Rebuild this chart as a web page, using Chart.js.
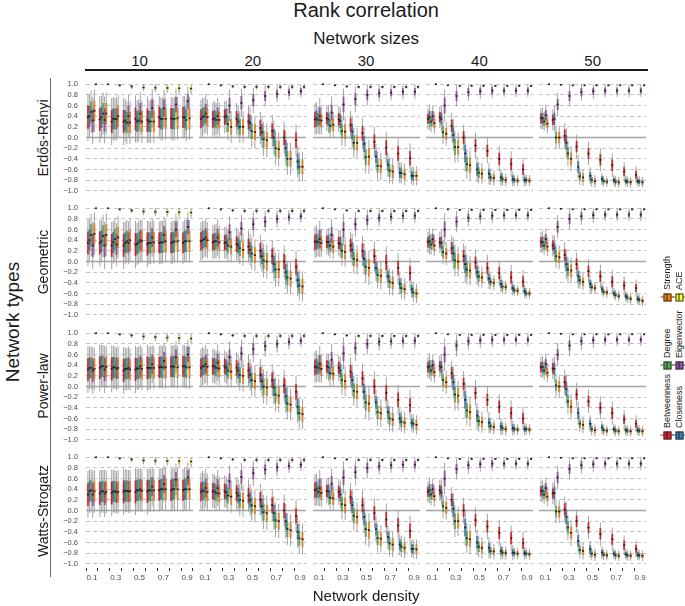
<!DOCTYPE html>
<html>
<head>
<meta charset="utf-8">
<script src="https://cdn.jsdelivr.net/npm/chart.js@4.4.1/dist/chart.umd.min.js"></script>
<style>
    body { margin: 0; background: #fff; }
    #wrap { position: relative; width: 685px; height: 606px; overflow: hidden;
            font-family: "Liberation Sans", Arial, sans-serif; color: #1a1a1a; }
    #wrap canvas { position: absolute; }
    .lbl { position: absolute; white-space: nowrap; transform: translate(-50%, -50%); line-height: 1; }
    .rot { transform: translate(-50%, -50%) rotate(-90deg); }
    .leg { position: absolute; white-space: nowrap; font-size: 9px; line-height: 1;
           transform-origin: 0 0; transform: rotate(-90deg) translateY(-50%); }
    .key { position: absolute; width: 13px; height: 7px; transform: translate(-50%, -50%); }
    .key .w { position: absolute; left: 0; right: 0; top: 3px; height: 1px; background: #555; }
    .key .b { position: absolute; left: 3px; width: 6px; top: 0; height: 6px; border: 0.5px solid #333; }
    .key .m { position: absolute; left: 6px; width: 1px; top: 0; height: 7px; background: #222; }
</style>
</head>
<body>
<div id="wrap"></div>
<script>
    // categories and labels
    var densityLabels = ['0.1', '0.2', '0.3', '0.4', '0.5', '0.6', '0.7', '0.8', '0.9'];
    var sizeLabels = ['10', '20', '30', '40', '50'];
    var typeLabels = ['Erdős-Rényi', 'Geometric', 'Power-law', 'Watts-Strogatz'];
    var measureNames = ['Betweenness', 'Closeness', 'Degree', 'Eigenvector', 'Strength', 'ACE'];
    var measureColors = ['#E41A1C', '#377EB8', '#4DAF4A', '#984EA3', '#FF7F00', '#FFFF33'];
    var yTicks = [-1.0, -0.8, -0.6, -0.4, -0.2, 0.0, 0.2, 0.4, 0.6, 0.8, 1.0];

    // medians, one row per measure (Betweenness .. ACE), one column per density
    var er10 = [
        [0.38, 0.34, 0.30, 0.30, 0.35, 0.33, 0.38, 0.36, 0.38],
        [0.40, 0.38, 0.35, 0.32, 0.30, 0.30, 0.35, 0.35, 0.38],
        [0.48, 0.45, 0.35, 0.28, 0.32, 0.30, 0.35, 0.35, 0.33],
        [0.32, 0.33, 0.35, 0.40, 0.45, 0.55, 0.55, 0.62, 0.68],
        [0.50, 0.45, 0.40, 0.28, 0.30, 0.30, 0.35, 0.36, 0.36],
        [1.00, 1.00, 0.98, 0.96, 0.94, 0.935, 0.93, 0.925, 0.92]
    ];
    var er20 = [
        [0.35, 0.34, 0.38, 0.35, 0.30, 0.18, 0.12, 0.00, -0.05],
        [0.38, 0.36, 0.40, 0.30, 0.27, 0.10, 0.00, -0.20, -0.45],
        [0.40, 0.33, 0.25, 0.20, 0.12, -0.03, -0.20, -0.40, -0.55],
        [0.45, 0.40, 0.60, 0.65, 0.70, 0.78, 0.82, 0.85, 0.87],
        [0.38, 0.33, 0.20, 0.20, 0.10, -0.05, -0.22, -0.40, -0.55],
        [1.00, 0.98, 0.96, 0.95, 0.95, 0.95, 0.95, 0.95, 0.95]
    ];
    var er30 = [
        [0.34, 0.36, 0.34, 0.24, 0.08, -0.08, -0.19, -0.30, -0.39],
        [0.36, 0.34, 0.31, 0.11, -0.12, -0.36, -0.51, -0.66, -0.72],
        [0.33, 0.22, 0.12, -0.10, -0.37, -0.53, -0.62, -0.67, -0.72],
        [0.40, 0.47, 0.62, 0.72, 0.80, 0.83, 0.84, 0.86, 0.86],
        [0.32, 0.24, 0.11, -0.10, -0.36, -0.54, -0.64, -0.69, -0.72],
        [1.00, 0.98, 0.96, 0.95, 0.95, 0.95, 0.95, 0.95, 0.95]
    ];
    var er40 = [
        [0.35, 0.38, 0.22, 0.00, -0.15, -0.25, -0.40, -0.50, -0.60],
        [0.38, 0.35, 0.05, -0.30, -0.60, -0.68, -0.75, -0.78, -0.80],
        [0.30, 0.10, -0.18, -0.50, -0.66, -0.75, -0.78, -0.80, -0.80],
        [0.40, 0.60, 0.78, 0.85, 0.87, 0.88, 0.88, 0.88, 0.88],
        [0.27, 0.07, -0.18, -0.52, -0.68, -0.76, -0.80, -0.81, -0.81],
        [1.00, 0.98, 0.97, 0.97, 0.97, 0.97, 0.97, 0.97, 0.97]
    ];
    var er50 = [
        [0.36, 0.33, 0.03, -0.17, -0.30, -0.42, -0.52, -0.64, -0.70],
        [0.36, 0.35, -0.10, -0.55, -0.72, -0.78, -0.80, -0.82, -0.82],
        [0.30, 0.00, -0.30, -0.73, -0.80, -0.82, -0.83, -0.83, -0.83],
        [0.42, 0.62, 0.78, 0.85, 0.87, 0.88, 0.88, 0.88, 0.88],
        [0.26, 0.00, -0.40, -0.75, -0.82, -0.83, -0.84, -0.84, -0.84],
        [1.00, 0.99, 0.98, 0.98, 0.98, 0.98, 0.98, 0.98, 0.98]
    ];
    var geo10 = [
        [0.35, 0.35, 0.30, 0.30, 0.32, 0.33, 0.35, 0.35, 0.35],
        [0.40, 0.38, 0.36, 0.35, 0.33, 0.35, 0.36, 0.36, 0.38],
        [0.50, 0.48, 0.42, 0.38, 0.36, 0.35, 0.36, 0.38, 0.38],
        [0.30, 0.30, 0.32, 0.35, 0.40, 0.45, 0.50, 0.60, 0.65],
        [0.52, 0.50, 0.45, 0.40, 0.38, 0.36, 0.38, 0.38, 0.38],
        [1.00, 1.00, 0.98, 0.96, 0.94, 0.935, 0.93, 0.925, 0.92]
    ];
    var geo20 = [
        [0.38, 0.36, 0.35, 0.33, 0.28, 0.20, 0.10, 0.00, -0.10],
        [0.40, 0.38, 0.36, 0.30, 0.22, 0.10, -0.05, -0.20, -0.35],
        [0.42, 0.38, 0.30, 0.25, 0.15, 0.02, -0.15, -0.30, -0.45],
        [0.45, 0.45, 0.55, 0.62, 0.70, 0.75, 0.80, 0.83, 0.85],
        [0.40, 0.36, 0.28, 0.22, 0.12, 0.00, -0.15, -0.32, -0.47],
        [1.00, 0.98, 0.96, 0.95, 0.95, 0.95, 0.95, 0.95, 0.95]
    ];
    var geo30 = [
        [0.36, 0.37, 0.35, 0.30, 0.20, 0.10, -0.02, -0.12, -0.22],
        [0.38, 0.37, 0.33, 0.22, 0.05, -0.12, -0.28, -0.42, -0.52],
        [0.36, 0.30, 0.20, 0.05, -0.10, -0.25, -0.38, -0.50, -0.58],
        [0.42, 0.50, 0.60, 0.70, 0.78, 0.82, 0.84, 0.86, 0.86],
        [0.35, 0.28, 0.18, 0.03, -0.12, -0.27, -0.40, -0.52, -0.60],
        [1.00, 0.98, 0.96, 0.95, 0.95, 0.95, 0.95, 0.95, 0.95]
    ];
    var geo40 = [
        [0.36, 0.36, 0.25, 0.10, -0.02, -0.12, -0.22, -0.30, -0.38],
        [0.38, 0.35, 0.15, -0.05, -0.20, -0.32, -0.42, -0.50, -0.56],
        [0.32, 0.18, 0.02, -0.15, -0.28, -0.38, -0.47, -0.54, -0.60],
        [0.42, 0.60, 0.75, 0.82, 0.85, 0.86, 0.87, 0.87, 0.87],
        [0.30, 0.15, 0.00, -0.17, -0.30, -0.40, -0.48, -0.55, -0.60],
        [1.00, 0.98, 0.97, 0.97, 0.97, 0.97, 0.97, 0.97, 0.97]
    ];
    var geo50 = [
        [0.36, 0.30, 0.12, -0.05, -0.18, -0.28, -0.38, -0.45, -0.50],
        [0.37, 0.25, -0.05, -0.28, -0.42, -0.52, -0.60, -0.65, -0.70],
        [0.30, 0.10, -0.15, -0.35, -0.48, -0.57, -0.63, -0.68, -0.72],
        [0.42, 0.65, 0.80, 0.85, 0.87, 0.88, 0.88, 0.88, 0.88],
        [0.28, 0.08, -0.17, -0.38, -0.50, -0.58, -0.65, -0.70, -0.74],
        [1.00, 0.99, 0.98, 0.98, 0.98, 0.98, 0.98, 0.98, 0.98]
    ];
    var pl10 = [
        [0.32, 0.35, 0.33, 0.30, 0.32, 0.35, 0.36, 0.37, 0.38],
        [0.35, 0.38, 0.36, 0.33, 0.34, 0.35, 0.37, 0.38, 0.38],
        [0.35, 0.38, 0.36, 0.33, 0.34, 0.35, 0.36, 0.37, 0.36],
        [0.30, 0.32, 0.33, 0.35, 0.38, 0.42, 0.48, 0.55, 0.60],
        [0.33, 0.37, 0.35, 0.32, 0.33, 0.35, 0.36, 0.36, 0.36],
        [1.00, 1.00, 0.98, 0.96, 0.94, 0.93, 0.92, 0.91, 0.90]
    ];
    var pl20 = [
        [0.35, 0.38, 0.38, 0.35, 0.30, 0.22, 0.12, 0.02, -0.10],
        [0.38, 0.38, 0.35, 0.30, 0.22, 0.10, -0.02, -0.18, -0.38],
        [0.38, 0.35, 0.30, 0.22, 0.12, 0.00, -0.15, -0.32, -0.50],
        [0.42, 0.45, 0.55, 0.62, 0.70, 0.76, 0.80, 0.84, 0.86],
        [0.37, 0.34, 0.28, 0.20, 0.10, -0.02, -0.17, -0.34, -0.52],
        [1.00, 0.98, 0.96, 0.95, 0.95, 0.95, 0.95, 0.95, 0.95]
    ];
    var pl30 = [
        [0.36, 0.38, 0.35, 0.28, 0.15, 0.00, -0.12, -0.25, -0.35],
        [0.38, 0.36, 0.30, 0.12, -0.10, -0.30, -0.48, -0.60, -0.68],
        [0.35, 0.25, 0.12, -0.08, -0.30, -0.48, -0.60, -0.66, -0.70],
        [0.42, 0.50, 0.62, 0.72, 0.80, 0.84, 0.85, 0.86, 0.86],
        [0.33, 0.24, 0.10, -0.10, -0.32, -0.50, -0.62, -0.68, -0.72],
        [1.00, 0.98, 0.96, 0.95, 0.95, 0.95, 0.95, 0.95, 0.95]
    ];
    var pl40 = [
        [0.36, 0.38, 0.25, 0.05, -0.12, -0.25, -0.38, -0.50, -0.60],
        [0.38, 0.36, 0.08, -0.25, -0.55, -0.68, -0.75, -0.78, -0.80],
        [0.30, 0.12, -0.15, -0.45, -0.65, -0.74, -0.78, -0.80, -0.80],
        [0.40, 0.60, 0.77, 0.85, 0.87, 0.88, 0.88, 0.88, 0.88],
        [0.27, 0.08, -0.17, -0.48, -0.67, -0.76, -0.80, -0.81, -0.81],
        [1.00, 0.98, 0.97, 0.97, 0.97, 0.97, 0.97, 0.97, 0.97]
    ];
    var pl50 = [
        [0.36, 0.34, 0.08, -0.15, -0.28, -0.40, -0.50, -0.62, -0.70],
        [0.37, 0.33, -0.05, -0.50, -0.70, -0.77, -0.80, -0.82, -0.82],
        [0.30, 0.02, -0.28, -0.70, -0.80, -0.82, -0.83, -0.83, -0.83],
        [0.42, 0.60, 0.77, 0.85, 0.87, 0.88, 0.88, 0.88, 0.88],
        [0.26, 0.00, -0.38, -0.72, -0.82, -0.83, -0.84, -0.84, -0.84],
        [1.00, 0.99, 0.98, 0.98, 0.98, 0.98, 0.98, 0.98, 0.98]
    ];
    var ws10 = [
        [0.30, 0.32, 0.33, 0.35, 0.35, 0.36, 0.38, 0.38, 0.38],
        [0.36, 0.36, 0.36, 0.37, 0.38, 0.38, 0.40, 0.40, 0.40],
        [0.38, 0.36, 0.36, 0.37, 0.38, 0.38, 0.40, 0.40, 0.40],
        [0.30, 0.32, 0.34, 0.36, 0.40, 0.45, 0.50, 0.58, 0.62],
        [0.36, 0.35, 0.35, 0.36, 0.37, 0.38, 0.40, 0.40, 0.40],
        [1.00, 1.00, 0.98, 0.96, 0.94, 0.935, 0.93, 0.925, 0.92]
    ];
    var ws20 = [
        [0.35, 0.36, 0.36, 0.33, 0.28, 0.20, 0.10, 0.00, -0.10],
        [0.38, 0.36, 0.34, 0.28, 0.20, 0.08, -0.05, -0.20, -0.40],
        [0.36, 0.33, 0.28, 0.20, 0.10, -0.03, -0.18, -0.35, -0.52],
        [0.42, 0.42, 0.55, 0.63, 0.70, 0.77, 0.81, 0.84, 0.86],
        [0.35, 0.32, 0.26, 0.18, 0.08, -0.05, -0.20, -0.37, -0.54],
        [1.00, 0.98, 0.96, 0.95, 0.95, 0.95, 0.95, 0.95, 0.95]
    ];
    var ws30 = [
        [0.38, 0.37, 0.35, 0.25, 0.10, -0.05, -0.17, -0.28, -0.38],
        [0.40, 0.36, 0.30, 0.10, -0.12, -0.35, -0.50, -0.64, -0.72],
        [0.35, 0.24, 0.12, -0.10, -0.35, -0.52, -0.62, -0.68, -0.72],
        [0.42, 0.50, 0.62, 0.72, 0.80, 0.83, 0.85, 0.86, 0.86],
        [0.33, 0.23, 0.10, -0.12, -0.37, -0.53, -0.64, -0.70, -0.73],
        [1.00, 0.98, 0.96, 0.95, 0.95, 0.95, 0.95, 0.95, 0.95]
    ];
    var ws40 = [
        [0.35, 0.38, 0.20, 0.00, -0.18, -0.30, -0.42, -0.52, -0.62],
        [0.38, 0.34, 0.03, -0.32, -0.60, -0.70, -0.76, -0.79, -0.80],
        [0.30, 0.08, -0.20, -0.52, -0.68, -0.76, -0.79, -0.80, -0.81],
        [0.40, 0.60, 0.78, 0.85, 0.87, 0.88, 0.88, 0.88, 0.88],
        [0.27, 0.05, -0.20, -0.54, -0.70, -0.77, -0.80, -0.81, -0.82],
        [1.00, 0.98, 0.97, 0.97, 0.97, 0.97, 0.97, 0.97, 0.97]
    ];
    var ws50 = [
        [0.36, 0.32, 0.02, -0.20, -0.32, -0.44, -0.54, -0.65, -0.72],
        [0.37, 0.33, -0.12, -0.57, -0.73, -0.79, -0.81, -0.82, -0.83],
        [0.30, -0.02, -0.32, -0.74, -0.81, -0.83, -0.84, -0.84, -0.84],
        [0.42, 0.62, 0.78, 0.85, 0.87, 0.88, 0.88, 0.88, 0.88],
        [0.26, -0.02, -0.42, -0.76, -0.83, -0.84, -0.85, -0.85, -0.85],
        [1.00, 0.99, 0.98, 0.98, 0.98, 0.98, 0.98, 0.98, 0.98]
    ];

    // half box heights (half the IQR) per network size
    var box10 = [
        [0.22, 0.22, 0.22, 0.22, 0.22, 0.22, 0.20, 0.20, 0.20],
        [0.20, 0.20, 0.20, 0.20, 0.20, 0.20, 0.20, 0.20, 0.20],
        [0.20, 0.20, 0.20, 0.20, 0.20, 0.20, 0.20, 0.20, 0.20],
        [0.22, 0.22, 0.20, 0.20, 0.20, 0.18, 0.17, 0.15, 0.14],
        [0.20, 0.20, 0.20, 0.20, 0.20, 0.20, 0.20, 0.20, 0.20],
        [0.00, 0.00, 0.015, 0.025, 0.035, 0.040, 0.045, 0.050, 0.055]
    ];
    var box20 = [
        [0.18, 0.16, 0.15, 0.15, 0.15, 0.15, 0.15, 0.15, 0.15],
        [0.18, 0.16, 0.15, 0.15, 0.15, 0.15, 0.16, 0.16, 0.15],
        [0.17, 0.16, 0.15, 0.15, 0.15, 0.16, 0.16, 0.15, 0.14],
        [0.18, 0.17, 0.15, 0.13, 0.12, 0.10, 0.08, 0.07, 0.06],
        [0.17, 0.16, 0.15, 0.15, 0.15, 0.16, 0.16, 0.15, 0.14],
        [0.00, 0.010, 0.018, 0.022, 0.025, 0.025, 0.025, 0.025, 0.025]
    ];
    var box30 = [
        [0.15, 0.12, 0.12, 0.13, 0.14, 0.14, 0.15, 0.14, 0.14],
        [0.15, 0.13, 0.13, 0.15, 0.15, 0.12, 0.11, 0.10, 0.08],
        [0.13, 0.12, 0.14, 0.14, 0.15, 0.13, 0.12, 0.10, 0.09],
        [0.17, 0.15, 0.15, 0.12, 0.10, 0.08, 0.07, 0.07, 0.07],
        [0.13, 0.12, 0.14, 0.14, 0.16, 0.13, 0.12, 0.10, 0.09],
        [0.00, 0.008, 0.014, 0.016, 0.016, 0.016, 0.016, 0.016, 0.016]
    ];
    var box40 = [
        [0.10, 0.10, 0.12, 0.12, 0.12, 0.12, 0.12, 0.12, 0.11],
        [0.12, 0.12, 0.15, 0.17, 0.12, 0.10, 0.08, 0.07, 0.06],
        [0.10, 0.11, 0.15, 0.14, 0.10, 0.07, 0.06, 0.05, 0.05],
        [0.10, 0.15, 0.10, 0.08, 0.07, 0.07, 0.06, 0.06, 0.06],
        [0.10, 0.11, 0.14, 0.14, 0.10, 0.07, 0.06, 0.05, 0.05],
        [0.00, 0.006, 0.010, 0.010, 0.010, 0.010, 0.010, 0.010, 0.010]
    ];
    var box50 = [
        [0.10, 0.10, 0.12, 0.11, 0.11, 0.11, 0.11, 0.09, 0.08],
        [0.10, 0.12, 0.14, 0.11, 0.08, 0.06, 0.05, 0.05, 0.05],
        [0.09, 0.11, 0.12, 0.08, 0.06, 0.05, 0.05, 0.05, 0.05],
        [0.10, 0.11, 0.10, 0.08, 0.07, 0.06, 0.06, 0.06, 0.06],
        [0.09, 0.11, 0.12, 0.08, 0.06, 0.05, 0.05, 0.05, 0.05],
        [0.00, 0.005, 0.008, 0.008, 0.008, 0.008, 0.008, 0.008, 0.008]
    ];

    var panelMedians = [
        [er10, er20, er30, er40, er50],
        [geo10, geo20, geo30, geo40, geo50],
        [pl10, pl20, pl30, pl40, pl50],
        [ws10, ws20, ws30, ws40, ws50]
    ];
    var panelBoxes = [box10, box20, box30, box40, box50];

    // layout of the facet grid
    var plotLeft0 = 86, colStep = 113.3, plotW = 107;
    var plotTop0 = 80, rowStep = 124.4, plotH = 115;
    var dodge = 0.135; // spacing of the six boxes inside one density, in category units
    var font = '"Liberation Sans", Arial, sans-serif';
    var wrap = document.getElementById('wrap');

    function clip(v) {
        return Math.max(-1, Math.min(1, v));
    }

    function addLabel(text, x, y, size, cls) {
        var d = document.createElement('div');
        d.className = 'lbl' + (cls ? ' ' + cls : '');
        d.textContent = text;
        d.style.left = x + 'px';
        d.style.top = y + 'px';
        d.style.fontSize = size + 'px';
        wrap.appendChild(d);
        return d;
    }

    // solid horizontal line at zero, drawn through the y scale
    var zeroLine = {
        id: 'zeroLine',
        beforeDatasetsDraw: function (chart) {
            var area = chart.chartArea;
            var y = chart.scales.y.getPixelForValue(0);
            var ctx = chart.ctx;
            ctx.save();
            ctx.strokeStyle = '#a3a3a3';
            ctx.lineWidth = 1.6;
            ctx.beginPath();
            ctx.moveTo(area.left, y);
            ctx.lineTo(area.right, y);
            ctx.stroke();
            ctx.restore();
        }
    };

    function makePanel(row, col) {
        var med = panelMedians[row][col];
        var half = panelBoxes[col];
        var yW = col === 0 ? 30 : 0;
        var xH = row === 3 ? 22 : 0;
        // room above/below the plot for the first column's tick labels
        var padTop = col === 0 ? 5 : 0;
        var padBottom = col === 0 && row !== 3 ? 5 : 0;
        var left = Math.round(plotLeft0 + col * colStep) - yW;
        var top = Math.round(plotTop0 + row * rowStep) - padTop;

        var canvas = document.createElement('canvas');
        canvas.width = plotW + yW;
        canvas.height = plotH + xH + padTop + padBottom;
        canvas.style.left = left + 'px';
        canvas.style.top = top + 'px';
        canvas.style.width = canvas.width + 'px';
        canvas.style.height = canvas.height + 'px';
        wrap.appendChild(canvas);

        var medianSets = [], boxSets = [], whiskerSets = [];
        measureNames.forEach(function (name, k) {
            var off = (k - 2.5) * dodge;
            medianSets.push({
                label: name + ' median',
                data: med[k].map(function (v, i) { return { x: i + off, y: [v - 0.016, v + 0.016] }; }),
                backgroundColor: '#262626',
                barPercentage: 1.3,
                inflateAmount: 0
            });
            boxSets.push({
                label: name,
                data: med[k].map(function (v, i) {
                    return { x: i + off, y: [clip(v - half[k][i]), clip(v + half[k][i])] };
                }),
                backgroundColor: measureColors[k],
                borderColor: 'rgba(45,45,45,0.6)',
                borderWidth: 0.5,
                borderSkipped: false,
                barPercentage: 1.5
            });
            whiskerSets.push({
                label: name + ' whisker',
                data: med[k].map(function (v, i) {
                    return { x: i + off, y: [clip(v - 2 * half[k][i]), clip(v + 2 * half[k][i])] };
                }),
                backgroundColor: '#a0a0a0',
                barPercentage: 0.6,
                inflateAmount: 0
            });
        });

        new Chart(canvas, {
            type: 'bar',
            data: { datasets: medianSets.concat(boxSets, whiskerSets) },
            options: {
                responsive: false,
                animation: false,
                events: [],
                layout: { padding: 0 },
                datasets: { bar: { grouped: false, categoryPercentage: 1.0 } },
                plugins: { legend: { display: false }, tooltip: { enabled: false } },
                scales: {
                    x: {
                        type: 'linear',
                        min: -0.5,
                        max: 8.5,
                        offset: false,
                        display: row === 3,
                        afterBuildTicks: function (s) {
                            s.ticks = densityLabels.map(function (d, i) { return { value: i }; });
                        },
                        grid: { display: true, drawOnChartArea: false, drawTicks: true,
                                tickLength: 3, tickColor: '#333', tickWidth: 1 },
                        border: { display: false },
                        ticks: {
                            autoSkip: false, maxRotation: 0, padding: 2,
                            color: '#4d4d4d', font: { family: font, size: 8 },
                            callback: function (v) {
                                var i = Math.round(v);
                                return i % 2 === 0 ? densityLabels[i] : '';
                            }
                        },
                        afterFit: function (s) {
                            s.height = xH;
                            s.paddingLeft = 0;
                            s.paddingRight = 0;
                        }
                    },
                    y: {
                        min: -1.08,
                        max: 1.08,
                        afterBuildTicks: function (s) {
                            s.ticks = yTicks.map(function (v) { return { value: v }; });
                        },
                        grid: {
                            drawTicks: false,
                            lineWidth: 1,
                            color: function (c) {
                                return c.tick && Math.abs(c.tick.value) < 1e-9 ? 'rgba(0,0,0,0)' : '#c4c4c4';
                            }
                        },
                        border: { display: false, dash: [4, 3] },
                        ticks: {
                            display: col === 0,
                            autoSkip: false,
                            padding: 8,
                            color: '#4d4d4d',
                            font: { family: font, size: 7.5 },
                            callback: function (v) {
                                return (v < -1e-9 ? '\u2212' : '') + Math.abs(v).toFixed(1);
                            }
                        },
                        afterFit: function (s) {
                            s.width = yW;
                            s.paddingTop = padTop;
                            s.paddingBottom = padBottom;
                        }
                    }
                }
            },
            plugins: [zeroLine]
        });
    }

    for (var r = 0; r < typeLabels.length; r++) {
        for (var c = 0; c < sizeLabels.length; c++) {
            makePanel(r, c);
        }
    }

    // titles and strip labels
    var gridCenter = plotLeft0 + (4 * colStep + plotW) / 2;
    addLabel('Rank correlation', gridCenter, 10, 20);
    addLabel('Network sizes', gridCenter, 38, 17);
    sizeLabels.forEach(function (s, c) {
        addLabel(s, plotLeft0 + c * colStep + plotW / 2, 60, 15);
    });
    var strip = document.createElement('div');
    strip.style.cssText = 'position:absolute;left:85px;top:69px;width:563px;height:2px;background:#1a1a1a;';
    wrap.appendChild(strip);

    typeLabels.forEach(function (t, r) {
        addLabel(t, 43, plotTop0 + r * rowStep + plotH / 2, 14, 'rot');
    });
    var vline = document.createElement('div');
    vline.style.cssText = 'position:absolute;left:50px;top:78px;width:1px;height:499px;background:#6b6b6b;';
    wrap.appendChild(vline);
    addLabel('Network types', 12, 322, 19, 'rot');
    addLabel('Network density', gridCenter, 595, 15);

    // legend, rotated like the reference: key first, label above it
    var legendCols = [666.5, 678.5];
    var legendSwatchY = [435, 365, 297];
    measureNames.forEach(function (name, k) {
        var level = Math.floor(k / 2);
        var x = legendCols[k % 2];
        var key = document.createElement('div');
        key.className = 'key';
        key.style.left = x + 'px';
        key.style.top = legendSwatchY[level] + 'px';
        key.innerHTML = '<div class="w"></div><div class="b" style="background:' + measureColors[k] +
            '"></div><div class="m"></div>';
        wrap.appendChild(key);
        var t = document.createElement('div');
        t.className = 'leg';
        t.textContent = name;
        t.style.left = x + 'px';
        t.style.top = (legendSwatchY[level] - 7) + 'px';
        wrap.appendChild(t);
    });
</script>
</body>
</html>
